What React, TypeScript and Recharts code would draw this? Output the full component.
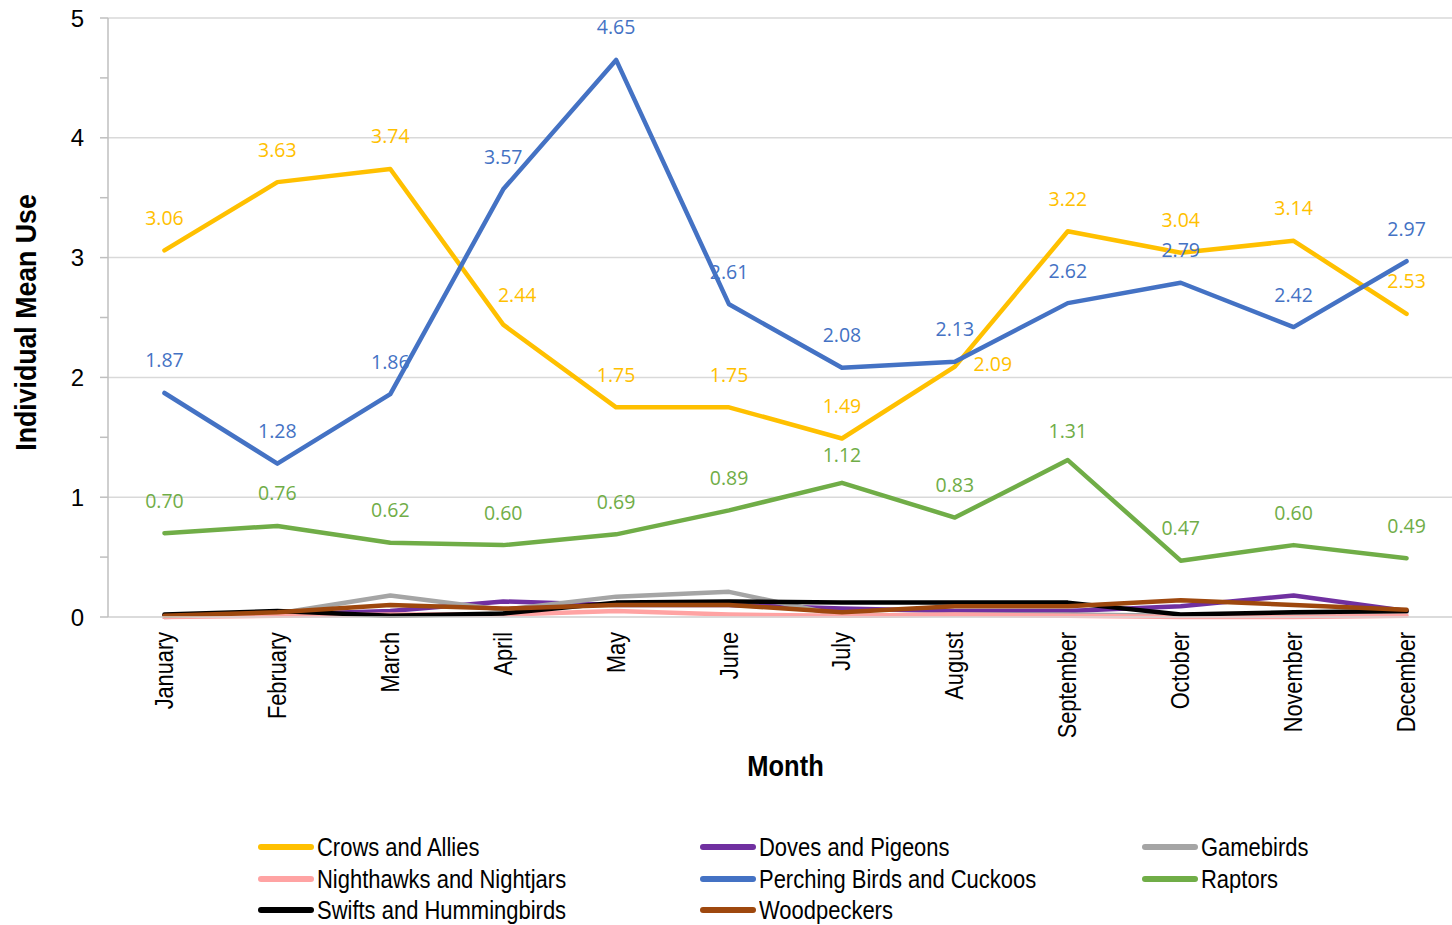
import React from 'react';
import { LineChart, Line, XAxis, YAxis, CartesianGrid, Legend, LabelList } from 'recharts';

// Monthly individual mean use by bird group
const months = ['January', 'February', 'March', 'April', 'May', 'June', 'July', 'August', 'September', 'October', 'November', 'December'];
const crowsAndAllies = [3.06, 3.63, 3.74, 2.44, 1.75, 1.75, 1.49, 2.09, 3.22, 3.04, 3.14, 2.53];
const dovesAndPigeons = [0.01, 0.02, 0.05, 0.13, 0.10, 0.10, 0.07, 0.05, 0.05, 0.09, 0.18, 0.05];
const gamebirds = [0.00, 0.03, 0.18, 0.06, 0.17, 0.21, 0.01, 0.02, 0.02, 0.01, 0.01, 0.04];
const nighthawksAndNightjars = [0.00, 0.01, 0.02, 0.02, 0.05, 0.02, 0.01, 0.02, 0.01, 0.00, 0.00, 0.01];
const perchingBirdsAndCuckoos = [1.87, 1.28, 1.86, 3.57, 4.65, 2.61, 2.08, 2.13, 2.62, 2.79, 2.42, 2.97];
const raptors = [0.70, 0.76, 0.62, 0.60, 0.69, 0.89, 1.12, 0.83, 1.31, 0.47, 0.60, 0.49];
const swiftsAndHummingbirds = [0.02, 0.05, 0.01, 0.03, 0.12, 0.13, 0.12, 0.12, 0.12, 0.02, 0.04, 0.05];
const woodpeckers = [0.01, 0.04, 0.10, 0.07, 0.10, 0.10, 0.04, 0.09, 0.09, 0.14, 0.10, 0.06];
const yTicks = [0, 0.5, 1, 1.5, 2, 2.5, 3, 3.5, 4, 4.5, 5];
const yGridValues = [0, 1, 2, 3, 4, 5];

type Series = { key: string; name: string; values: number[]; color: string; labelled: boolean };

const series: Series[] = [
  { key: 'crows', name: 'Crows and Allies', values: crowsAndAllies, color: '#FFC000', labelled: true },
  { key: 'doves', name: 'Doves and Pigeons', values: dovesAndPigeons, color: '#7030A0', labelled: false },
  { key: 'game', name: 'Gamebirds', values: gamebirds, color: '#A5A5A5', labelled: false },
  { key: 'night', name: 'Nighthawks and Nightjars', values: nighthawksAndNightjars, color: '#FFA3A3', labelled: false },
  { key: 'perching', name: 'Perching Birds and Cuckoos', values: perchingBirdsAndCuckoos, color: '#4472C4', labelled: true },
  { key: 'raptors', name: 'Raptors', values: raptors, color: '#70AD47', labelled: true },
  { key: 'swifts', name: 'Swifts and Hummingbirds', values: swiftsAndHummingbirds, color: '#000000', labelled: false },
  { key: 'wood', name: 'Woodpeckers', values: woodpeckers, color: '#9E480E', labelled: false },
];

const data = months.map((month, i) => {
  const row: Record<string, string | number> = { month };
  series.forEach((s) => {
    row[s.key] = s.values[i];
  });
  return row;
});

const SANS = "'Liberation Sans', Arial, sans-serif";
const LABEL_FONT = "'Open Sans', 'Liberation Sans', sans-serif";

// Label placement: above each point, with a few labels nudged aside
const labelNudge: Record<string, Record<number, [number, number]>> = {
  crows: { 3: [14, 3], 7: [38, 30] },
  raptors: { 6: [0, 5], 8: [0, 3] },
};

const makeValueLabel = (s: Series) => (props: any) => {
  const { x, y, value, index } = props;
  if (x == null || y == null) return null;
  const nudge = labelNudge[s.key]?.[index] ?? [0, 0];
  return (
    <text
      x={x + nudge[0]}
      y={y - 33 + nudge[1]}
      textAnchor="middle"
      dominantBaseline="central"
      fill={s.color}
      fontFamily={LABEL_FONT}
      fontSize={19.5}
    >
      {Number(value).toFixed(2)}
    </text>
  );
};

const YTick = (props: any) => {
  const { x, y, payload } = props;
  if (payload.value % 1 !== 0) return null;
  return (
    <text x={x} y={y} textAnchor="end" dominantBaseline="central" fontFamily={SANS} fontSize={24} fill="#000">
      {payload.value}
    </text>
  );
};

const XTick = (props: any) => {
  const { x, y, payload } = props;
  return (
    <text
      transform={`translate(${x},${y + 7}) rotate(-90) scale(0.87,1)`}
      textAnchor="end"
      dominantBaseline="central"
      fontFamily={SANS}
      fontSize={25}
      fill="#000"
    >
      {payload.value}
    </text>
  );
};

const YTitle = (props: any) => {
  const vb = props.viewBox || {};
  const cy = (vb.y ?? 0) + (vb.height ?? 0) / 2;
  return (
    <text
      transform={`translate(25,${cy + 5}) rotate(-90) scale(0.89,1)`}
      textAnchor="middle"
      dominantBaseline="central"
      fontFamily={SANS}
      fontWeight="bold"
      fontSize={30}
      fill="#000"
    >
      Individual Mean Use
    </text>
  );
};

const XTitle = (props: any) => {
  const vb = props.viewBox || {};
  const cx = (vb.x ?? 0) + (vb.width ?? 0) / 2;
  const bottom = (vb.y ?? 0) + (vb.height ?? 0);
  return (
    <text
      transform={`translate(${cx},${bottom - 1}) scale(0.85,1)`}
      textAnchor="middle"
      fontFamily={SANS}
      fontWeight="bold"
      fontSize={30}
      fill="#000"
    >
      Month
    </text>
  );
};

const legendColumns = [258, 700, 1142];
const legendRowHeight = 31.5;

const LegendBlock = () => (
  <div style={{ position: 'relative', width: 1452, height: 100 }}>
    {series.map((s, i) => {
      const col = i % 3;
      const row = Math.floor(i / 3);
      return (
        <div
          key={s.key}
          style={{
            position: 'absolute',
            left: legendColumns[col],
            top: row * legendRowHeight,
            height: 30,
            display: 'flex',
            alignItems: 'center',
            whiteSpace: 'nowrap',
          }}
        >
          <span style={{ display: 'inline-block', width: 56, height: 6, borderRadius: 3, background: s.color, marginRight: 3 }} />
          <span
            style={{
              display: 'inline-block',
              fontFamily: SANS,
              fontSize: 26,
              color: '#000',
              lineHeight: '30px',
              transform: 'scaleX(0.845)',
              transformOrigin: 'left center',
            }}
          >
            {s.name}
          </span>
        </div>
      );
    })}
  </div>
);

export default function App() {
  return (
    <div style={{ position: 'absolute', left: 0, top: 0, width: 1452, height: 925, overflow: 'hidden', background: '#fff' }}>
      <LineChart width={1470} height={925} data={data} margin={{ top: 18, right: 7, bottom: 148, left: 0 }}>
        <CartesianGrid vertical={false} horizontalValues={yGridValues} stroke="#D9D9D9" strokeWidth={1.5} />
        <XAxis
          dataKey="month"
          scale="band"
          height={160}
          interval={0}
          tickLine={false}
          axisLine={{ stroke: '#D9D9D9', strokeWidth: 1.5 }}
          tick={<XTick />}
          label={{ content: <XTitle /> }}
        />
        <YAxis
          width={108}
          domain={[0, 5]}
          ticks={yTicks}
          interval={0}
          tickSize={8}
          tickMargin={16}
          tickLine={{ stroke: '#BFBFBF', strokeWidth: 1.5 }}
          axisLine={{ stroke: '#BFBFBF', strokeWidth: 1.5 }}
          tick={<YTick />}
          label={{ content: <YTitle /> }}
        />
        {series.map((s) => (
          <Line
            key={s.key}
            type="linear"
            dataKey={s.key}
            name={s.name}
            stroke={s.color}
            strokeWidth={4.5}
            strokeLinecap="round"
            strokeLinejoin="round"
            dot={false}
            activeDot={false}
            isAnimationActive={false}
          >
            {s.labelled && <LabelList dataKey={s.key} content={makeValueLabel(s)} />}
          </Line>
        ))}
        <Legend
          layout="horizontal"
          verticalAlign="middle"
          align="center"
          wrapperStyle={{ position: 'absolute', left: 0, top: 832, width: 1452 }}
          content={<LegendBlock />}
        />
      </LineChart>
    </div>
  );
}
